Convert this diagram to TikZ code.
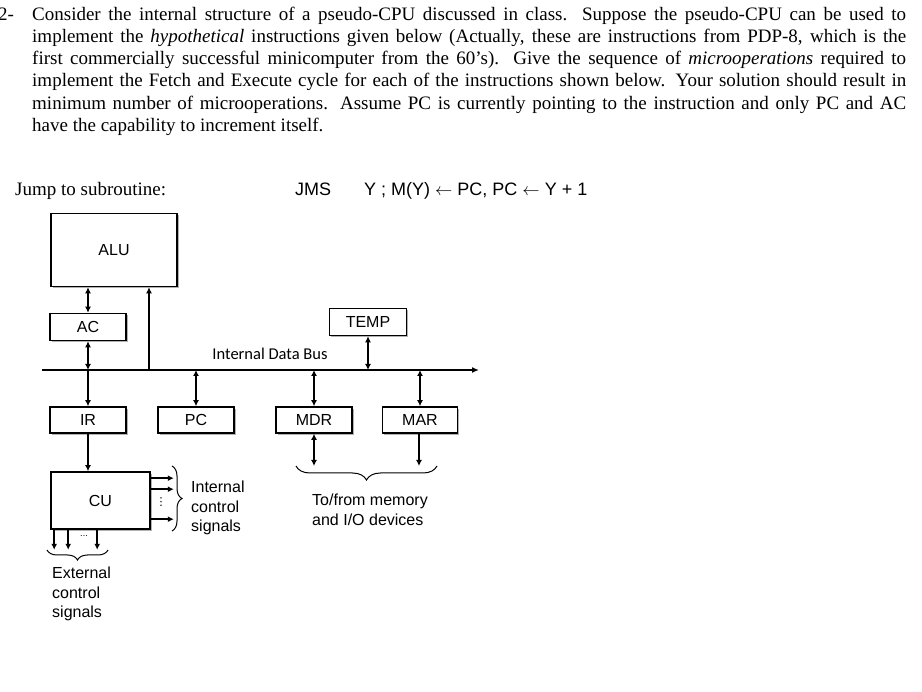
\documentclass[tikz,border=0pt]{standalone}
\usepackage{fontspec}
\setmainfont{Liberation Serif}
\newfontfamily\arial{Liberation Sans}
\newfontfamily\calibri{Carlito}
\newfontfamily\dejavu{DejaVu Sans}
\usetikzlibrary{arrows.meta,shadows,calc,decorations.pathreplacing}
\begin{document}
\begin{tikzpicture}[x=1pt,y=-1pt,
  box/.style={draw, line width=1.6pt, fill=white, inner sep=0pt,
    font=\arial\fontsize{16}{19}\selectfont,
    drop shadow={shadow xshift=1.8pt, shadow yshift=-1.8pt, fill=black!60, opacity=.5}},
  conn/.style={line width=1.9pt},
  sgl/.style={conn, -{Latex[length=6pt,width=6pt]}},
  dbl/.style={conn, {Latex[length=6pt,width=6pt]}-{Latex[length=6pt,width=6pt]}},
  brc/.style={decorate, line width=1pt, decoration={brace, amplitude=#1}},
  lbl/.style={font=\arial\fontsize{16}{19.5}\selectfont, align=left, inner sep=0pt},
]
\useasboundingbox (0,0) rectangle (922,692);
% question text
\node[anchor=base west, inner sep=0pt, font=\fontsize{19}{22.3}\selectfont] (num) at (-2,21) {2-};
\node[anchor=north west, inner sep=0pt, text width=874pt, align=justify,
  font=\fontsize{19}{22.3}\selectfont] (q) at (32,6.5)
 {Consider the internal structure of a pseudo-CPU discussed in class.  Suppose the pseudo-CPU can be used to\linebreak
 implement the \textit{hypothetical} instructions given below (Actually, these are instructions from PDP-8, which is the\linebreak
 first commercially successful minicomputer from the 60’s).  Give the sequence of \textit{microoperations} required to\linebreak
 implement the Fetch and Execute cycle for each of the instructions shown below.  Your solution should result in\linebreak
 minimum number of microoperations.  Assume PC is currently pointing to the instruction and only PC and AC\linebreak
 have the capability to increment itself.};
\node[anchor=base west, inner sep=0pt, font=\fontsize{19}{22.4}\selectfont] (jts) at (15,196) {Jump to subroutine:};
\node[anchor=base west, inner sep=0pt, font=\arial\fontsize{18}{20}\selectfont] (jms) at (295,196) {JMS};
\node[anchor=base west, inner sep=0pt, font=\arial\fontsize{18}{20}\selectfont] (expr) at (364,196) {Y ; M(Y) $\leftarrow$ PC, PC $\leftarrow$ Y + 1};
% boxes
\node[box, minimum width=126pt, minimum height=73pt] (ALU) at (114,250) {ALU};
\node[box, minimum width=76pt, minimum height=27pt] (AC) at (88,327) {AC};
\node[box, minimum width=77pt, minimum height=27pt] (TEMP) at (368,322) {TEMP};
\node[box, minimum width=76pt, minimum height=26pt] (IR) at (88,420) {IR};
\node[box, minimum width=76pt, minimum height=26pt] (PC) at (196,420) {PC};
\node[box, minimum width=76pt, minimum height=26pt] (MDR) at (314,420) {MDR};
\node[box, minimum width=75pt, minimum height=26pt] (MAR) at (420,420) {MAR};
\node[box, minimum width=99pt, minimum height=57pt] (CU) at (100.5,500.5) {CU};
% bus
\coordinate (busL) at (42,370);
\coordinate (busR) at (479,370);
\draw[conn, -{Latex[length=7pt,width=6pt]}] (busL) -- (busR);
\node[font=\calibri\fontsize{16.5}{18}\selectfont, inner sep=0pt] (busl) at (270,354) {Internal Data Bus};
\coordinate (aluin) at (149,370);
% connectors
\draw[dbl] (AC.north) -- (AC.north |- ALU.south);
\draw[dbl] (AC.south) -- (AC.south |- busL);
\draw[sgl] (IR.north |- busL) -- (IR.north);
\draw[sgl] (aluin) -- (aluin |- ALU.south);
\draw[dbl] (PC.north) -- (PC.north |- busL);
\draw[dbl] (MDR.north) -- (MDR.north |- busL);
\draw[dbl] (MAR.north) -- (MAR.north |- busL);
\draw[dbl] (TEMP.south) -- (TEMP.south |- busL);
\coordinate (mdrout) at (314,466);
\coordinate (marout) at (419,466);
\draw[dbl] (MDR.south) -- (mdrout);
\draw[sgl] (MAR.south -| marout) -- (marout);
\draw[sgl] (IR.south) -- (IR.south |- CU.north);
% CU signals
\draw[sgl] ($(CU.north east)+(0,7)$) -- ++(23,0);
\draw[sgl] ($(CU.north east)+(0,18)$) -- ++(23,0);
\draw[sgl] ($(CU.north east)+(0,48)$) -- ++(23,0);
\node[inner sep=0pt, font=\dejavu\fontsize{11}{11}\selectfont] (vd) at (161,502) {⋮};
\draw[sgl] ($(CU.south west)+(4,0)$) -- ++(0,20);
\draw[sgl] ($(CU.south west)+(18,0)$) -- ++(0,20);
\draw[sgl] ($(CU.south west)+(47,0)$) -- ++(0,20);
\node[inner sep=0pt, font=\arial\fontsize{9}{9}\selectfont] (hd) at (84,536) {...};
% braces
\coordinate (b1a) at (437,466);
\coordinate (b1b) at (296,466);
\draw[brc=14pt] (b1a) -- (b1b);
\coordinate (b2a) at (172,466);
\coordinate (b2b) at (172,531);
\draw[brc=10pt] (b2a) -- (b2b);
\coordinate (b3a) at (108,550);
\coordinate (b3b) at (47,550);
\draw[brc=10pt] (b3a) -- (b3b);
% labels
\node[lbl, anchor=north west] (ics) at (191,481) {Internal\\control\\signals};
\node[lbl, anchor=north west] (ecs) at (52,567) {External\\control\\signals};
\node[lbl, anchor=north west] (tfm) at (312,494) {To/from memory\\and I/O devices};
\end{tikzpicture}
\end{document}
